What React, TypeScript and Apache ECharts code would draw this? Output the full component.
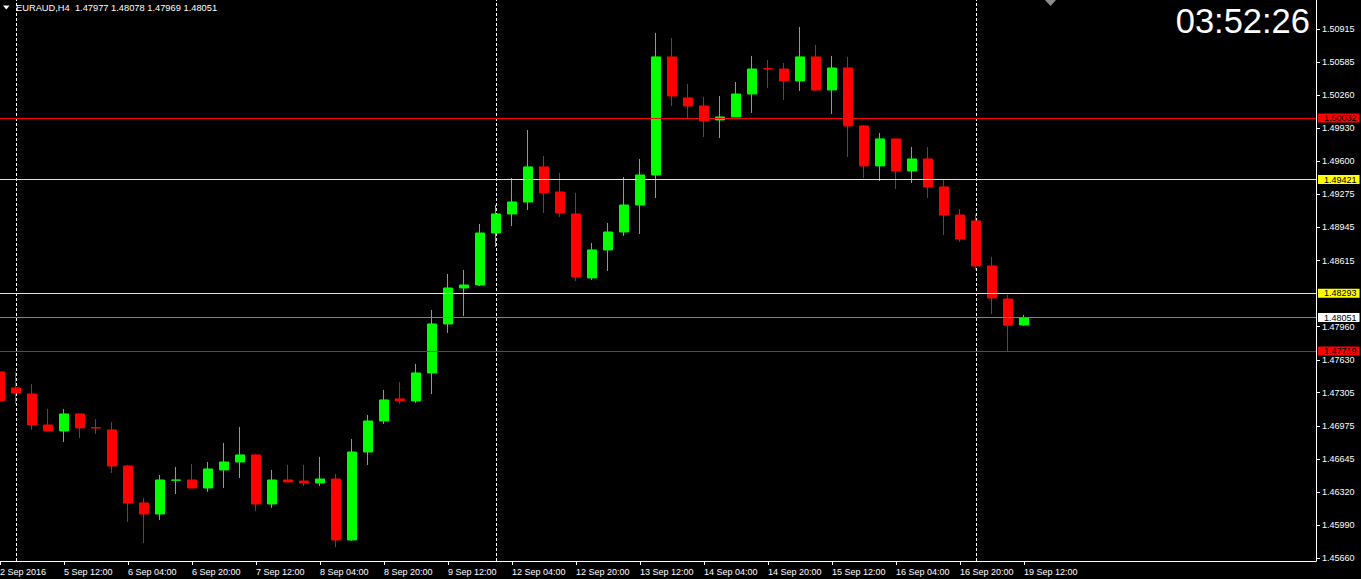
import React, { useEffect, useRef } from "react";
import * as echarts from "echarts";

const symbolTitle = "EURAUD,H4  1.47977 1.48078 1.47969 1.48051";
const clockText = "03:52:26";

const tickBars = [0, 4, 8, 12, 16, 20, 24, 28, 32, 36, 40, 44, 48, 52, 56, 60, 64];
const tickLabels = [
  "2 Sep 2016", "5 Sep 12:00", "6 Sep 04:00", "6 Sep 20:00", "7 Sep 12:00", "8 Sep 04:00",
  "8 Sep 20:00", "9 Sep 12:00", "12 Sep 04:00", "12 Sep 20:00", "13 Sep 12:00", "14 Sep 04:00",
  "14 Sep 20:00", "15 Sep 12:00", "16 Sep 04:00", "16 Sep 20:00", "19 Sep 12:00",
];

const opens = [
  1.47511, 1.47352, 1.47292, 1.46984, 1.46925, 1.47094, 1.46958, 1.46935, 1.46577, 1.4621,
  1.46101, 1.46436, 1.46438, 1.46359, 1.46538, 1.46617, 1.46687, 1.462, 1.46438, 1.46428,
  1.46409, 1.46448, 1.45843, 1.46716, 1.47024, 1.47243, 1.47223, 1.47501, 1.47987, 1.48344,
  1.48374, 1.4889, 1.49079, 1.49198, 1.49546, 1.49297, 1.49079, 1.48444, 1.48722, 1.489,
  1.49168, 1.49466, 1.50638, 1.50231, 1.50151, 1.50012, 1.50042, 1.5027, 1.50521, 1.50518,
  1.50399, 1.50638, 1.5031, 1.50528, 1.49953, 1.49556, 1.49824, 1.49506, 1.49625, 1.49347,
  1.49069, 1.4901, 1.48563, 1.48235, 1.47977,
];
const closes = [
  1.47223, 1.47302, 1.46984, 1.46925, 1.47094, 1.46955, 1.46955, 1.46577, 1.4621, 1.46101,
  1.46438, 1.46438, 1.46359, 1.46548, 1.46617, 1.46687, 1.462, 1.46438, 1.46419, 1.46409,
  1.46448, 1.45843, 1.46716, 1.47024, 1.47233, 1.47223, 1.47501, 1.47987, 1.48344, 1.48374,
  1.4889, 1.49079, 1.49198, 1.49546, 1.49288, 1.49089, 1.48454, 1.48722, 1.489, 1.49168,
  1.49466, 1.50638, 1.5025, 1.50151, 1.50002, 1.50042, 1.5027, 1.50518, 1.50518, 1.50399,
  1.50638, 1.5031, 1.50528, 1.49953, 1.49556, 1.49824, 1.49506, 1.49625, 1.49347, 1.49069,
  1.48831, 1.48563, 1.48245, 1.47975, 1.48051,
];
const lows = [
  1.47203, 1.47193, 1.46935, 1.46925, 1.46816, 1.46855, 1.46895, 1.46508, 1.46022, 1.45813,
  1.46041, 1.46299, 1.46359, 1.46319, 1.46359, 1.46458, 1.46131, 1.46161, 1.46419, 1.46379,
  1.46379, 1.45773, 1.45833, 1.46587, 1.46994, 1.47193, 1.47203, 1.47292, 1.47898, 1.48066,
  1.48364, 1.48751, 1.4896, 1.49119, 1.49089, 1.49049, 1.48414, 1.48424, 1.48513, 1.48861,
  1.4888, 1.49238, 1.50151, 1.50022, 1.49843, 1.49834, 1.50042, 1.50082, 1.5033, 1.50211,
  1.503, 1.503, 1.50072, 1.49645, 1.49436, 1.49407, 1.49327, 1.49387, 1.49238, 1.48871,
  1.48801, 1.48523, 1.48086, 1.47719, 1.47969,
];
const highs = [
  1.4752, 1.47511, 1.47391, 1.47143, 1.47143, 1.47094, 1.47044, 1.47014, 1.46587, 1.4626,
  1.46488, 1.46567, 1.46597, 1.46617, 1.46806, 1.46965, 1.46697, 1.46538, 1.46587, 1.46587,
  1.46667, 1.46498, 1.46845, 1.47084, 1.47332, 1.47411, 1.4759, 1.48126, 1.48483, 1.48523,
  1.4898, 1.49168, 1.49436, 1.49913, 1.49655, 1.49486, 1.49288, 1.48791, 1.4899, 1.49446,
  1.49625, 1.50876, 1.50826, 1.5037, 1.50241, 1.5025, 1.50389, 1.50648, 1.50608, 1.50578,
  1.50935, 1.50757, 1.50648, 1.50638, 1.49963, 1.49883, 1.49824, 1.49744, 1.49744, 1.49426,
  1.49129, 1.49079, 1.48652, 1.48275, 1.48078,
];

const priceTicks = [
  1.4566, 1.4599, 1.4632, 1.46645, 1.46975, 1.47305, 1.4763, 1.4796, 1.48615, 1.48945,
  1.49275, 1.496, 1.4993, 1.5026, 1.50585, 1.50915,
];
const yMin = 1.45634;
const yMax = 1.51203;

const levelPrices = [1.50032, 1.49421, 1.48293, 1.48051, 1.47719];
const weekStartBars = [1, 31, 61];

// styles (kept apart from data)
const levelLineColors = ["#ff0000", "#ffff00", "#ffff00", "#808080", "#ff0000"];
const levelBoxColors = ["#ff0000", "#ffff00", "#ffff00", "#ffffff", "#ff0000"];
const FONT = "'Liberation Sans', Arial, sans-serif";

export default function App() {
  const ref = useRef<HTMLDivElement>(null);
  useEffect(() => {
    if (!ref.current) return;
    const chart = echarts.init(ref.current, null, { renderer: "svg" });
    const data = opens.map((o, i) => [i, o, closes[i], lows[i], highs[i]]);

    const levelData = levelPrices.map((p, i) => ({
      yAxis: p,
      lineStyle: { color: levelLineColors[i], width: 1, type: "solid", opacity: 1 },
      label: {
        show: true,
        position: "end",
        distance: 2,
        formatter: () => p.toFixed(5),
        backgroundColor: levelBoxColors[i],
        color: "#000000",
        padding: [1, 3, 0, 6],
        fontSize: 9,
        lineHeight: 8,
        fontFamily: FONT,
      },
    }));

    const option: any = {
      animation: false,
      backgroundColor: "#000000",
      grid: { left: 0, top: 0, width: 1316, height: 561, containLabel: false, outerBoundsMode: "none" },
      xAxis: {
        type: "value",
        min: 0,
        max: 82.25,
        axisLine: { show: true, onZero: false, lineStyle: { color: "#ffffff", width: 1 } },
        axisTick: { show: true, length: 4, customValues: tickBars, lineStyle: { color: "#ffffff" } },
        axisLabel: {
          customValues: tickBars,
          formatter: (v: number) => {
            const k = tickBars.indexOf(Math.round(v));
            return k >= 0 ? tickLabels[k] : "";
          },
          align: "left",
          color: "#ffffff",
          fontSize: 9,
          fontFamily: FONT,
          margin: 6,
        },
        splitLine: { show: false },
      },
      yAxis: {
        type: "value",
        position: "right",
        min: yMin,
        max: yMax,
        axisLine: { show: true, onZero: false, lineStyle: { color: "#ffffff", width: 1 } },
        axisTick: { show: true, length: 4, customValues: priceTicks, lineStyle: { color: "#ffffff" } },
        axisLabel: {
          customValues: priceTicks,
          formatter: (v: number) => v.toFixed(5),
          color: "#ffffff",
          fontSize: 9,
          lineHeight: 8,
          fontFamily: FONT,
          margin: 6,
        },
        splitLine: { show: false },
      },
      series: [
        {
          type: "line",
          data: [],
          silent: true,
          symbol: "none",
          z: 1,
          markLine: {
            silent: true,
            symbol: ["none", "none"],
            precision: 5,
            animation: false,
            z: 1,
            lineStyle: { color: "#ffffff", width: 1, type: [3, 2] },
            label: { show: false },
            emphasis: { disabled: true },
            data: weekStartBars.map((b) => ({ xAxis: b })),
          },
        },
        {
          type: "candlestick",
          data,
          barWidth: 10,
          z: 2,
          encode: { x: 0, y: [1, 2, 3, 4] },
          itemStyle: {
            color: "#00ff00",
            color0: "#ff0000",
            borderColor: "#00ff00",
            borderColor0: "#ff0000",
            borderWidth: 1,
          },
          emphasis: { disabled: true },
          silent: true,
          markLine: {
            silent: true,
            symbol: ["none", "none"],
            precision: 5,
            animation: false,
            emphasis: { disabled: true },
            data: levelData,
          },
        },
      ],
      graphic: [
        {
          type: "polygon",
          shape: { points: [[3, 5.5], [9.5, 5.5], [6.25, 9.5]] },
          style: { fill: "#ffffff" },
        },
        {
          type: "text",
          x: 16,
          y: 7.5,
          style: { text: symbolTitle, fill: "#ffffff", fontSize: 9.3, fontFamily: FONT, verticalAlign: "middle" },
        },
        {
          type: "polygon",
          shape: { points: [[1045, 0], [1056, 0], [1050.5, 6]] },
          style: { fill: "#8c8c8c" },
        },
        {
          type: "text",
          x: 1310,
          y: 21,
          style: {
            text: clockText,
            fill: "#ffffff",
            fontSize: 34.5,
            fontFamily: FONT,
            align: "right",
            verticalAlign: "middle",
          },
        },
      ],
    };
    chart.setOption(option);
    return () => chart.dispose();
  }, []);
  return (
    <div
      ref={ref}
      style={{ position: "fixed", left: 0, top: 0, width: 1361, height: 579, background: "#000000" }}
    />
  );
}
